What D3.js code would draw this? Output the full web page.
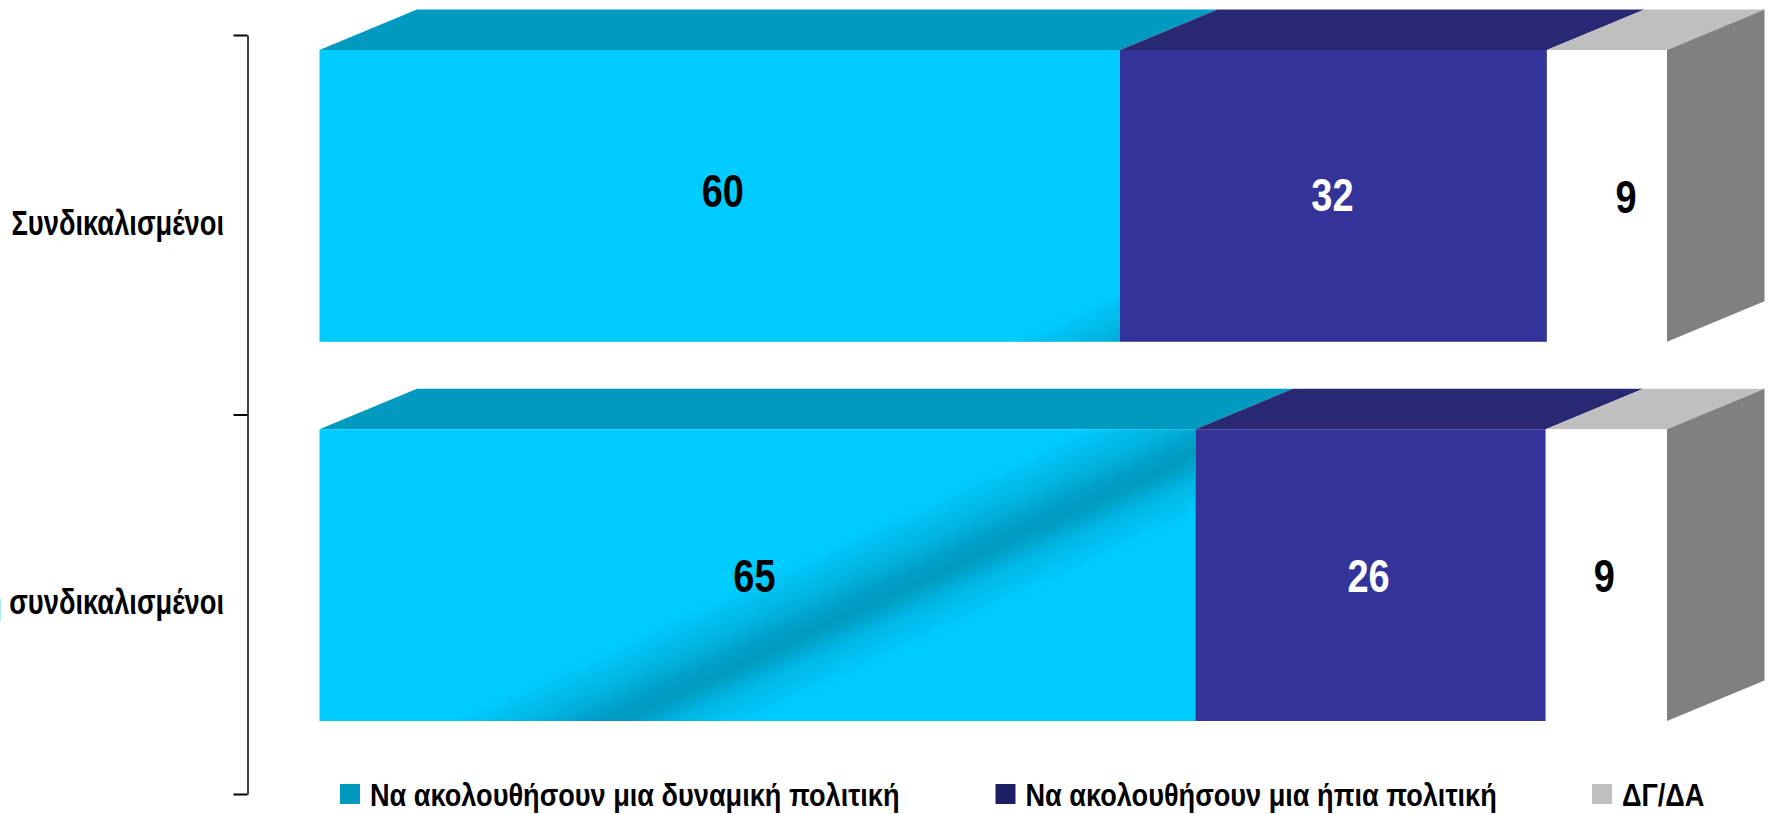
<!DOCTYPE html>
<html>
<head>
<meta charset="utf-8">
<script src="https://cdn.jsdelivr.net/npm/d3@7"></script>
<style>
  html, body { margin: 0; padding: 0; background: #fff; overflow: hidden; }
  svg { display: block; }
  text { font-family: "Liberation Sans", sans-serif; font-weight: bold; }
</style>
</head>
<body>
<div id="chart"></div>
<script>
const categories = ['Συνδικαλισμένοι', 'Μη συνδικαλισμένοι'];
const seriesNames = ['Να ακολουθήσουν μια δυναμική πολιτική', 'Να ακολουθήσουν μια ήπια πολιτική', 'ΔΓ/ΔΑ'];
const dynamicValues = [60, 65];
const softValues = [32, 26];
const noAnswerValues = [9, 9];

const seriesValues = [dynamicValues, softValues, noAnswerValues];
const rows = categories.map((c, i) => {
  const row = { category: c };
  seriesNames.forEach((s, j) => { row[s] = seriesValues[j][i]; });
  return row;
});

const width = 1768, height = 814;
const depthX = 97.5, depthY = 40.5;
const frontColors = ['#00ccff', '#333399', '#ffffff'];
const topColors = ['#0099bf', '#292973', '#bfbfbf'];
const legendColors = ['#0099bf', '#1f1f66', '#bfbfbf'];

const svg = d3.select('#chart').append('svg')
  .attr('width', width)
  .attr('height', height);

// the reference bars are 100% stacked, that's why 60+32+9 still fills the bar
const stacked = d3.stack().keys(seriesNames).offset(d3.stackOffsetExpand)(rows);

const x = d3.scaleLinear().domain([0, 1]).range([319.5, 1667]);
const y = d3.scaleBand().domain(categories).range([50, 721]).paddingInner(0.2306);
const axisY = d3.scaleLinear().domain([0, categories.length]).range([35, 794]);

// Diagonal dark streak in the cyan segments
const defs = svg.append('defs');
const streaks = [
  { x1: 1092, y1: 302, x2: 1146, y2: 419 },
  { x1: 1068, y1: 435, x2: 1122, y2: 552 }
];
const streakStops = [
  [0, '#00ccff'], [0.3, '#00b2de'], [0.45, '#00a0c8'], [0.54, '#0099bf'],
  [0.62, '#00a2ca'], [0.75, '#00b8e6'], [1, '#00ccff']
];
streaks.forEach((s, i) => {
  const g = defs.append('linearGradient')
    .attr('id', `streak${i}`)
    .attr('gradientUnits', 'userSpaceOnUse')
    .attr('x1', s.x1).attr('y1', s.y1)
    .attr('x2', s.x2).attr('y2', s.y2);
  streakStops.forEach(d => {
    g.append('stop').attr('offset', d[0]).attr('stop-color', d[1]);
  });
});

const bars = svg.append('g');

// Top faces
stacked.forEach((layer, j) => {
  bars.append('g').selectAll('path')
    .data(layer)
    .enter()
    .append('path')
    .attr('d', d => {
      const top = y(d.data.category);
      const x0 = x(d[0]), x1 = x(d[1]);
      return `M${x0},${top}L${x0 + depthX},${top - depthY}L${x1 + depthX},${top - depthY}L${x1},${top}Z`;
    })
    .attr('fill', topColors[j]);
});

// Right side of each bar
bars.append('g').selectAll('path')
  .data(rows)
  .enter()
  .append('path')
  .attr('d', d => {
    const top = y(d.category), bottom = top + y.bandwidth();
    const r = x(1);
    return `M${r},${top}L${r + depthX},${top - depthY}L${r + depthX},${bottom - depthY}L${r},${bottom}Z`;
  })
  .attr('fill', '#808080');

// Front faces
stacked.forEach((layer, j) => {
  bars.append('g').selectAll('rect')
    .data(layer)
    .enter()
    .append('rect')
    .attr('x', d => x(d[0]))
    .attr('y', d => y(d.data.category))
    .attr('width', d => x(d[1]) - x(d[0]))
    .attr('height', y.bandwidth())
    .attr('fill', (d, i) => j === 0 ? `url(#streak${i})` : frontColors[j]);
});

// Value labels, they don't sit quite centred in the reference
// no Arial Narrow here, so all text is the bold sans squeezed with scale()
const labelNudgeX = [[3, -1, 19], [-3, -2, -2]];
const labelNudgeY = [[11, 15, 17], [17, 17, 17]];
stacked.forEach((layer, j) => {
  svg.append('g').selectAll('text')
    .data(layer)
    .enter()
    .append('text')
    .attr('transform', (d, i) => {
      const lx = (x(d[0]) + x(d[1])) / 2 + labelNudgeX[i][j];
      const ly = y(d.data.category) + y.bandwidth() / 2 + labelNudgeY[i][j];
      return `translate(${lx},${ly}) scale(0.825,1)`;
    })
    .attr('text-anchor', 'middle')
    .attr('font-size', 46)
    .attr('fill', j === 1 ? '#ffffff' : '#000000')
    .text((d, i) => seriesValues[j][i]);
});

// Category axis with ticks between the categories
svg.append('g')
  .attr('transform', 'translate(247.5,0)')
  .call(d3.axisLeft(axisY).tickValues(d3.range(categories.length + 1)).tickFormat('').tickSizeInner(14).tickSizeOuter(0))
  .call(g => g.select('.domain').attr('stroke', '#000').attr('stroke-width', 1.5))
  .call(g => g.selectAll('.tick line').attr('stroke', '#000').attr('stroke-width', 2));

svg.append('g').selectAll('text')
  .data(categories)
  .enter()
  .append('text')
  .attr('transform', (d, i) => `translate(224,${(axisY(i) + axisY(i + 1)) / 2 + 10}) scale(0.78,1)`)
  .attr('text-anchor', 'end')
  .attr('font-size', 35)
  .attr('fill', '#000')
  .text(d => d);

// Legend
const legendX = [340, 995.5, 1592];
const legend = svg.append('g').selectAll('g')
  .data(seriesNames)
  .enter()
  .append('g')
  .attr('transform', (d, i) => `translate(${legendX[i]},784)`);
legend.append('rect')
  .attr('width', 20)
  .attr('height', 20)
  .attr('fill', (d, i) => legendColors[i]);
legend.append('text')
  .attr('transform', 'translate(30,22) scale(0.89,1)')
  .attr('font-size', 30.5)
  .attr('fill', '#000')
  .text(d => d);
</script>
</body>
</html>
